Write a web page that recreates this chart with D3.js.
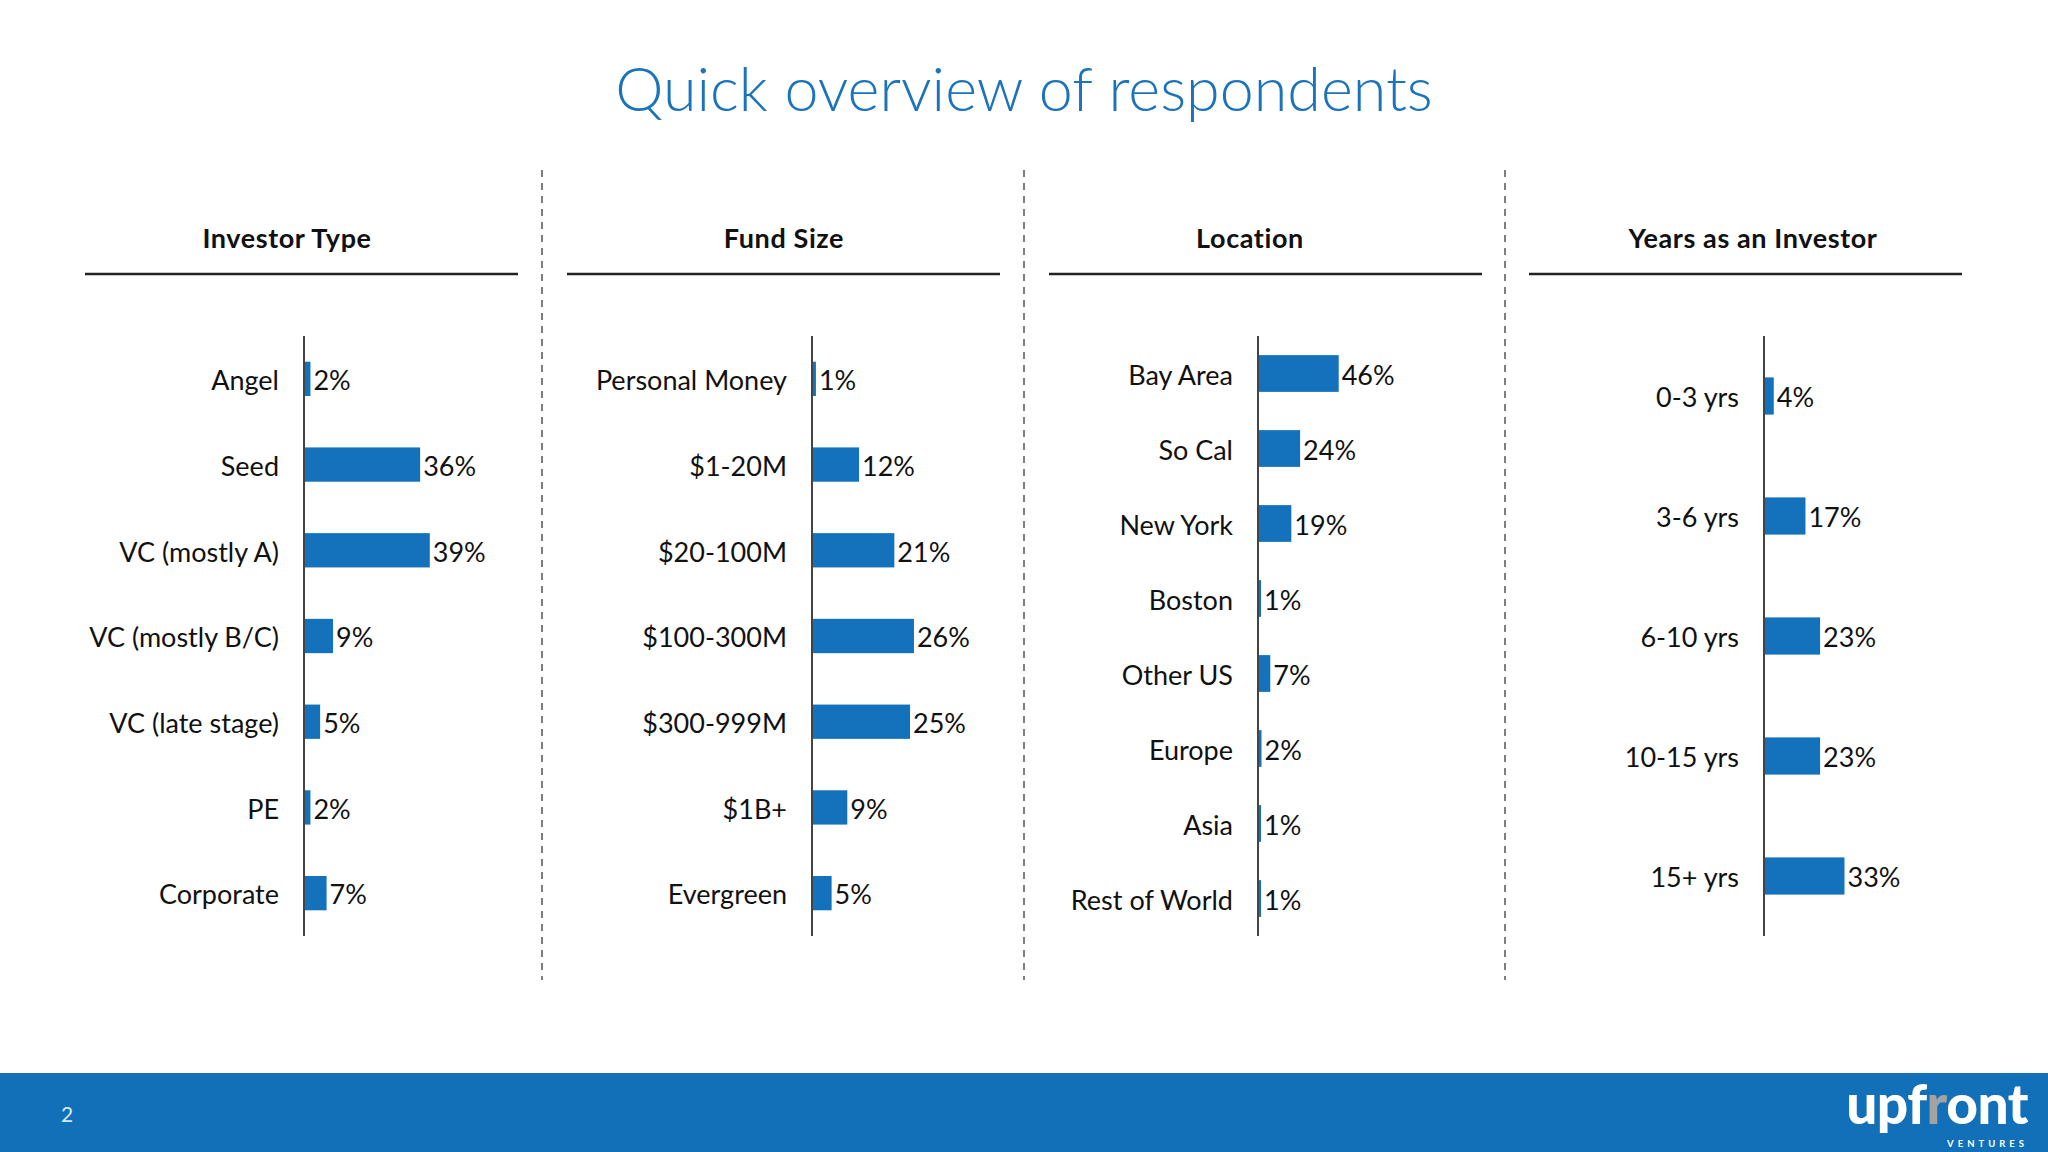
<!DOCTYPE html>
<html>
<head>
<meta charset="utf-8">
<script src="https://cdn.jsdelivr.net/npm/d3@7"></script>
<style>
	html, body { margin:0; padding:0; background:#fff; }
	svg { display:block; font-family: Lato, "Open Sans", sans-serif; }
</style>
</head>
<body>
<svg id="chart" width="2048" height="1152"></svg>
<script>
// ---- data ----
const investorTypes  = ["Angel", "Seed", "VC (mostly A)", "VC (mostly B/C)", "VC (late stage)", "PE", "Corporate"]
const investorShares = [0.02, 0.36, 0.39, 0.09, 0.05, 0.02, 0.07]

const fundSizes      = ["Personal Money", "$1-20M", "$20-100M", "$100-300M", "$300-999M", "$1B+", "Evergreen"]
const fundShares     = [0.01, 0.12, 0.21, 0.26, 0.25, 0.09, 0.05]

const locations      = ["Bay Area", "So Cal", "New York", "Boston", "Other US", "Europe", "Asia", "Rest of World"]
const locationShares = [0.46, 0.24, 0.19, 0.01, 0.07, 0.02, 0.01, 0.01]

const yearBuckets    = ["0-3 yrs", "3-6 yrs", "6-10 yrs", "10-15 yrs", "15+ yrs"]
const yearShares     = [0.04, 0.17, 0.23, 0.23, 0.33]

const panelTitles    = ["Investor Type", "Fund Size", "Location", "Years as an Investor"]

// ---- layout ----
const W = 2048, H = 1152
const blue = "#1372bb"
const plotTop = 336, plotBottom = 936, plotW = 200

// headerX: headers are not exactly centred on their underline in the slide
const panels = [
	{title: panelTitles[0], cats: investorTypes, vals: investorShares, left: 85,   headerX: 287,  axisX: 304,  xMax: 0.62, pad: 0.60},
	{title: panelTitles[1], cats: fundSizes,     vals: fundShares,     left: 567,  headerX: 784,  axisX: 812,  xMax: 0.51, pad: 0.60},
	{title: panelTitles[2], cats: locations,     vals: locationShares, left: 1049, headerX: 1250, axisX: 1258, xMax: 1.14, pad: 0.51},
	{title: panelTitles[3], cats: yearBuckets,   vals: yearShares,     left: 1529, headerX: 1753, axisX: 1764, xMax: 0.82, pad: 0.69}
]
const panelWidth = 433
const separators = [542, 1024, 1505]

const svg = d3.select("#chart")
svg.append("rect").attr("width", W).attr("height", H).attr("fill", "#fff")

// title
svg.append("text")
	.attr("x", 1024).attr("y", 111)
	.attr("text-anchor", "middle")
	.style("font-size", "61px")
	.style("font-weight", 300)
	.style("fill", "#1a73bb")
	.text("Quick overview of respondents")

// dashed separators
svg.selectAll(".sep")
	.data(separators)
	.join("line")
	.attr("x1", d => d).attr("x2", d => d)
	.attr("y1", 170).attr("y2", 980)
	.attr("stroke", "#555")
	.attr("stroke-width", 1.5)
	.attr("stroke-dasharray", "7,6")

panels.forEach(p => {
	const g = svg.append("g")

	// header + underline
	g.append("text")
		.attr("x", p.headerX).attr("y", 248)
		.attr("text-anchor", "middle")
		.style("font-size", "27px")
		.style("font-weight", 700)
		.style("letter-spacing", "0.6px")
		.style("fill", "#111")
		.text(p.title)
	g.append("line")
		.attr("x1", p.left).attr("x2", p.left + panelWidth)
		.attr("y1", 274).attr("y2", 274)
		.attr("stroke", "#222")
		.attr("stroke-width", 2.5)

	const x = d3.scaleLinear().domain([0, p.xMax]).range([p.axisX, p.axisX + plotW])
	const y = d3.scaleBand()
		.domain(p.cats)
		.range([plotTop, plotBottom])
		.paddingInner(p.pad)
		.paddingOuter(p.pad / 2)

	const rows = p.cats.map((c, i) => ({cat: c, val: p.vals[i]}))

	g.selectAll(".bar")
		.data(rows)
		.join("rect")
		.attr("x", x(0))
		.attr("y", d => y(d.cat))
		.attr("width", d => Math.max(x(d.val) - x(0), 3))
		.attr("height", y.bandwidth())
		.attr("fill", blue)

	// category axis (no ticks, labels only)
	const yAxis = d3.axisLeft(y).tickSize(0).tickPadding(25)
	const axisG = g.append("g")
		.attr("transform", "translate(" + p.axisX + ",0)")
		.call(yAxis)
	axisG.select(".domain").remove()
	axisG.selectAll("text")
		.attr("dy", "0.42em")
		.style("font-family", "Lato, 'Open Sans', sans-serif")
		.style("font-size", "27px")
		.style("fill", "#111")
	g.append("line")
		.attr("x1", p.axisX).attr("x2", p.axisX)
		.attr("y1", plotTop).attr("y2", plotBottom)
		.attr("stroke", "#444")
		.attr("stroke-width", 2)

	// value labels
	g.selectAll(".val")
		.data(rows)
		.join("text")
		.attr("x", d => x(0) + Math.max(x(d.val) - x(0), 3) + 3)
		.attr("y", d => y(d.cat) + y.bandwidth() / 2)
		.attr("dy", "0.42em")
		.style("font-size", "27px")
		.style("fill", "#111")
		.text(d => d3.format(".0%")(d.val))
})

// footer band
svg.append("rect")
	.attr("x", 0).attr("y", 1073)
	.attr("width", W).attr("height", H - 1073)
	.attr("fill", "#1170b8")
svg.append("text")
	.attr("x", 67).attr("y", 1122)
	.attr("text-anchor", "middle")
	.style("font-size", "21px")
	.style("fill", "#dce8f4")
	.text("2")

// logo
const logo = svg.append("text")
	.attr("x", 2028).attr("y", 1124)
	.attr("text-anchor", "end")
	.style("font-size", "55px")
	.style("font-weight", 900)
	.style("letter-spacing", "-0.5px")
	.style("fill", "#fff")
logo.append("tspan").text("upf")
logo.append("tspan").style("fill", "#a3a3a3").text("r")
logo.append("tspan").text("ont")
svg.append("text")
	.attr("x", 2028).attr("y", 1147)
	.attr("text-anchor", "end")
	.style("font-size", "9.5px")
	.style("font-weight", 700)
	.style("letter-spacing", "4px")
	.style("fill", "#fff")
	.text("VENTURES")
</script>
</body>
</html>
